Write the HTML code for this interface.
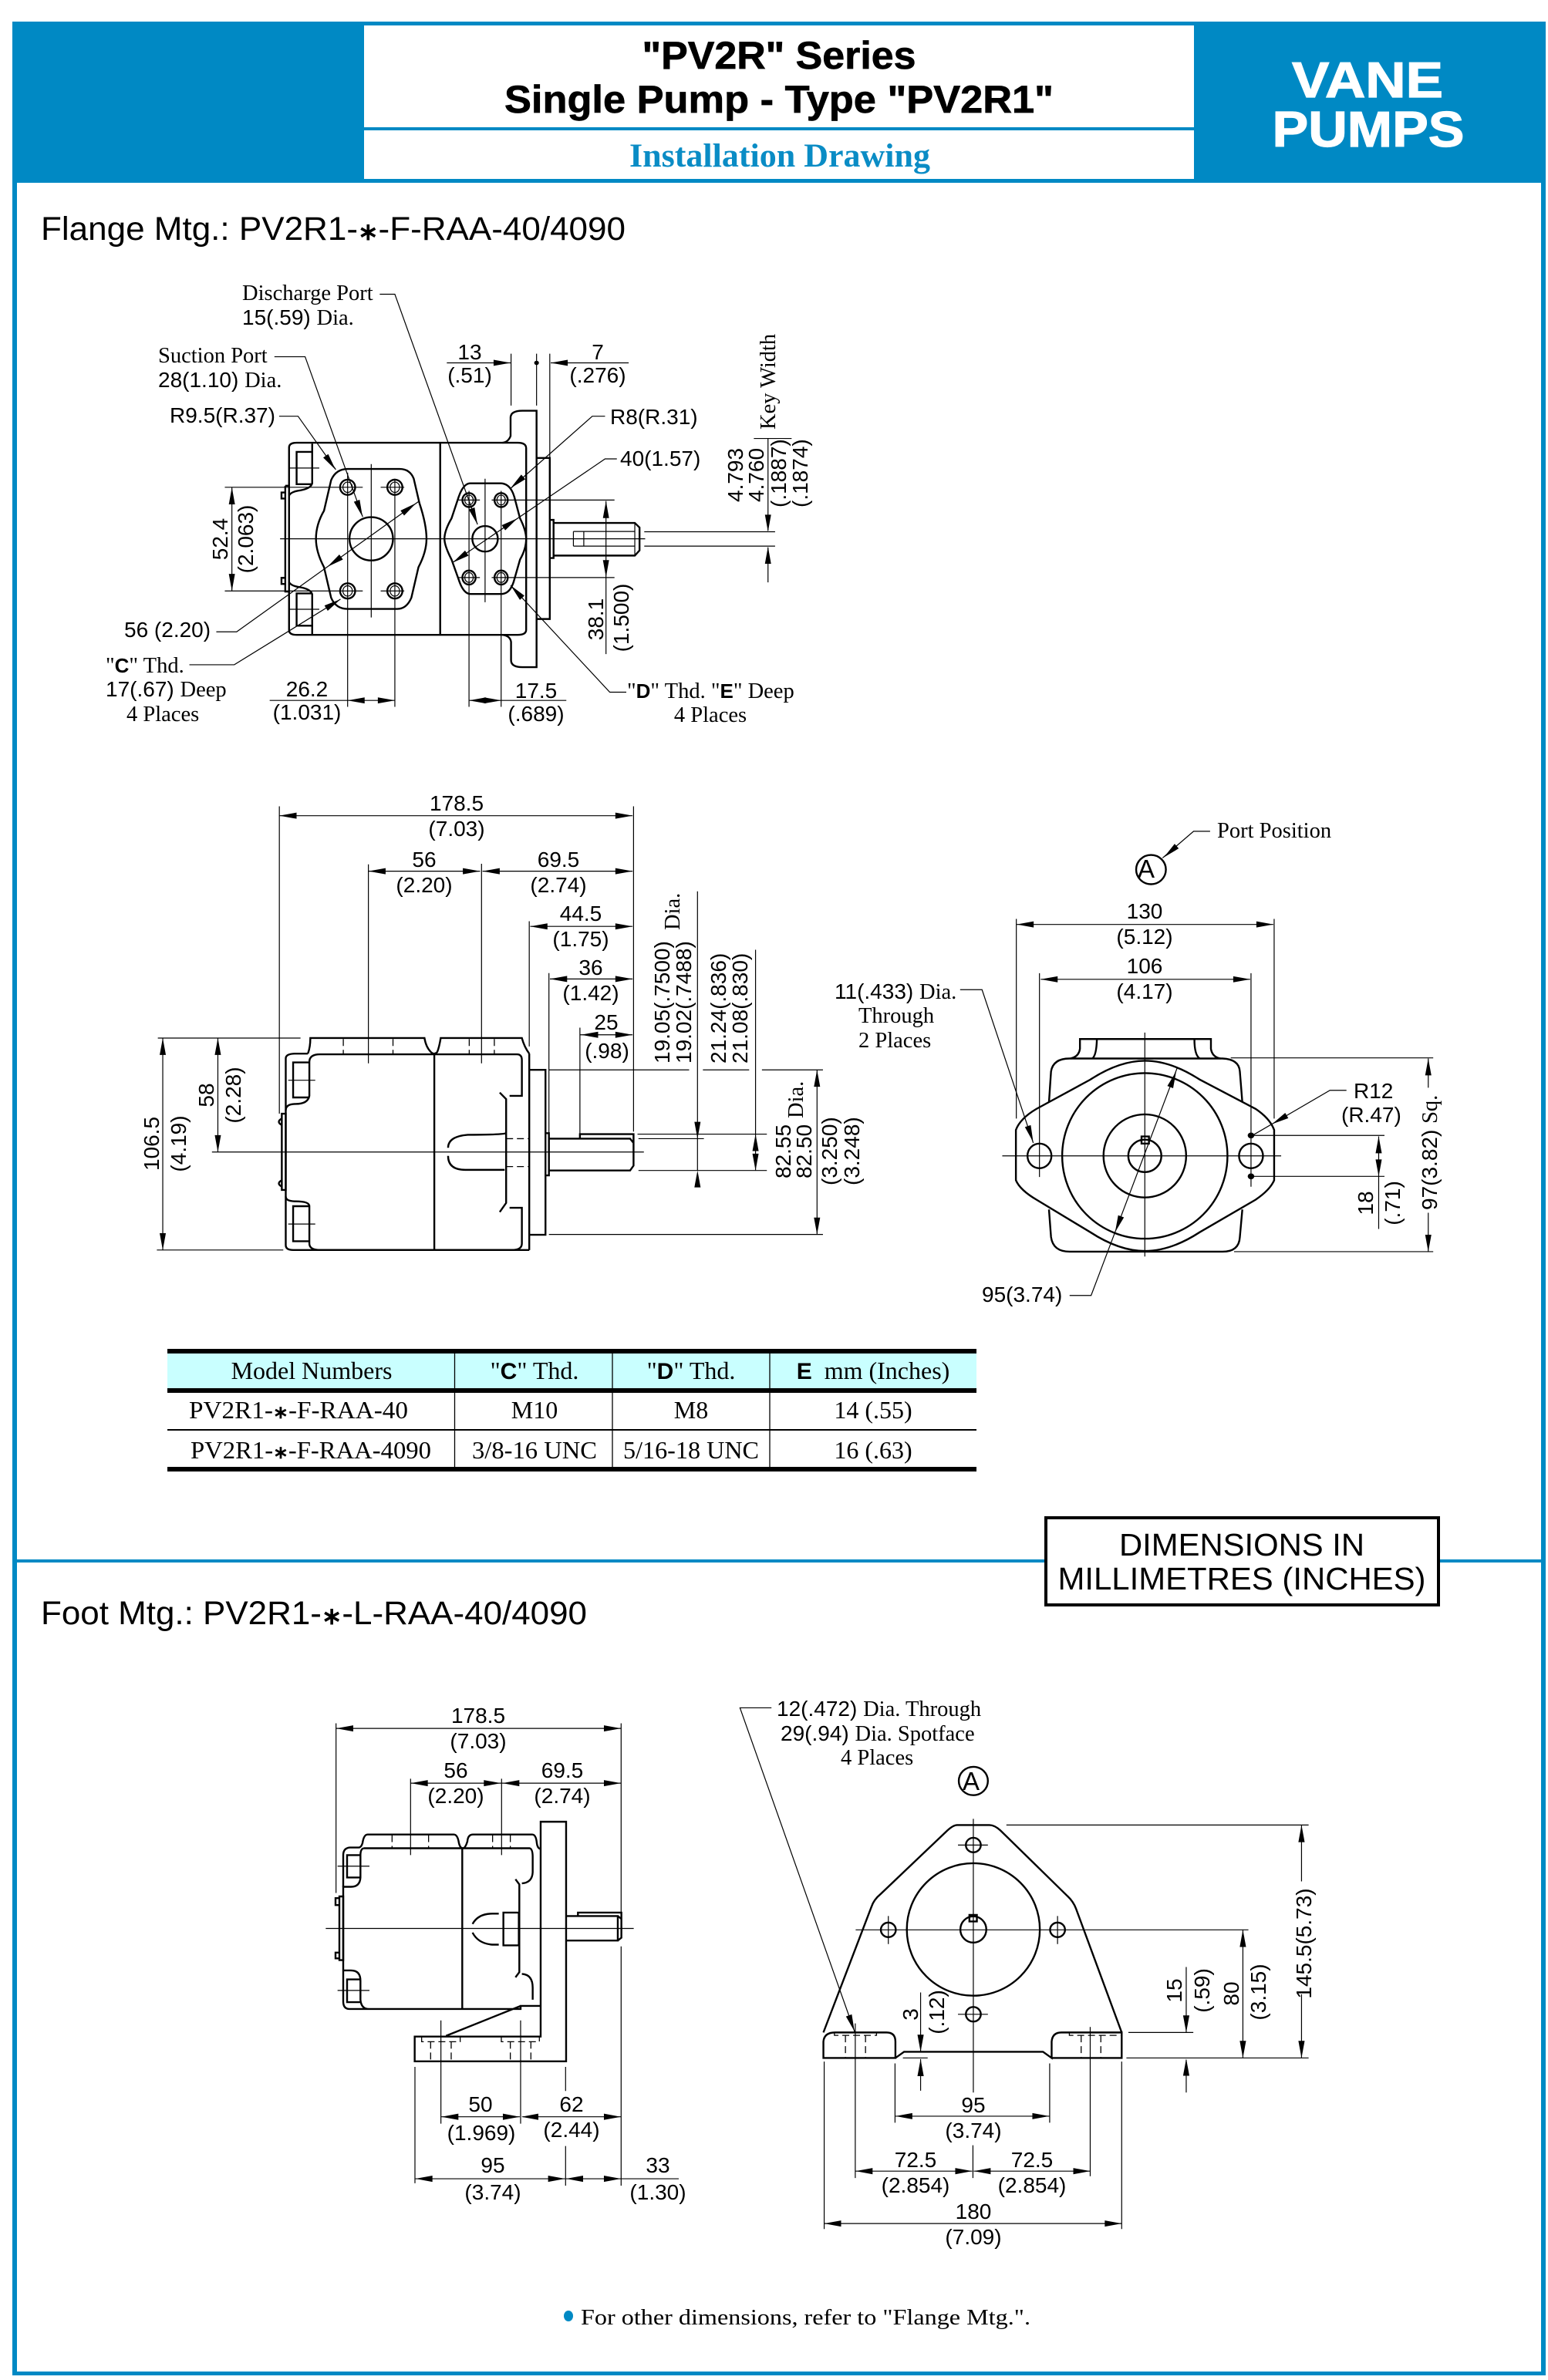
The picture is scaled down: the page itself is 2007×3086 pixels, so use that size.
<!DOCTYPE html>
<html><head><meta charset="utf-8"><title>PV2R Series Installation Drawing</title>
<style>
html,body{margin:0;padding:0;background:#fff}
svg{display:block}
.g path,.g line,.g ellipse,.g rect{vector-effect:non-scaling-stroke;fill:none;stroke:#000;stroke-width:2.4}
.g .t{stroke-width:1.2}
.g .d{stroke-width:1.3;stroke-dasharray:9 5}
.g .k{fill:#000;stroke:none}
text{fill:#000}
.n{font:28px "Liberation Sans",sans-serif}
.s{font:28.5px "Liberation Serif",serif}
.c{text-anchor:middle}
.tb{font:32px "Liberation Serif",serif}
.b{font-family:"Liberation Sans",sans-serif;font-weight:bold}
.st{font-size:.72em;font-weight:bold}
</style></head><body>
<svg xmlns="http://www.w3.org/2000/svg" width="2007" height="3086" viewBox="0 0 2007 3086">
<defs>
<path id="O" d="M0 0l-22 -4v8z"/>
<path id="Ar" d="M0 0l-36 -10v20z"/><path id="Al" d="M0 0l36 -10v20z"/><path id="Ad" d="M0 0l-6.5 -56h13z"/><path id="Au" d="M0 0l-6.5 56h13z"/>
<path id="Br" d="M0 0l-35 -9.5v19z"/><path id="Bl" d="M0 0l35 -9.5v19z"/><path id="Bd" d="M0 0l-6.3 -52h12.6z"/><path id="Bu" d="M0 0l-6.3 52h12.6z"/>
<path id="Cr" d="M0 0l-41 -9.5v19z"/><path id="Cl" d="M0 0l41 -9.5v19z"/><path id="Cd" d="M0 0l-7.5 -52h15z"/><path id="Cu" d="M0 0l-7.5 52h15z"/>
<path id="Dr" d="M0 0l-66 -9v18z"/><path id="Dl" d="M0 0l66 -9v18z"/>
<path id="Er" d="M0 0l-43 -8.5v17z"/><path id="El" d="M0 0l43 -8.5v17z"/><path id="Ed" d="M0 0l-8 -47h16z"/><path id="Eu" d="M0 0l-8 47h16z"/>
</defs>
<rect width="2007" height="3086" fill="#fff"/>
<!-- frame -->
<g fill="#0089c4">
<rect x="16" y="28" width="1988" height="209"/>
<rect x="16" y="237" width="6" height="2843"/>
<rect x="1998" y="237" width="6" height="2843"/>
<rect x="16" y="3075" width="1988" height="5"/>
<rect x="22" y="2022" width="1976" height="4"/>
</g>
<rect x="472" y="33" width="1076" height="199" fill="#fff"/>
<rect x="472" y="165" width="1076" height="4" fill="#0089c4"/>
<text class="b c" x="1010" y="89" font-size="50" stroke="#000" stroke-width=".7" textLength="355" lengthAdjust="spacingAndGlyphs">"PV2R" Series</text>
<text class="b c" x="1010" y="146" font-size="50" stroke="#000" stroke-width=".7" textLength="712" lengthAdjust="spacingAndGlyphs">Single Pump - Type "PV2R1"</text>
<text class="c" x="1011" y="216" font-family="Liberation Serif,serif" font-weight="bold" font-size="43" style="fill:#0a8cc5" textLength="390" lengthAdjust="spacingAndGlyphs">Installation Drawing</text>
<text class="b c" x="1773" y="126" font-size="65" stroke="#fff" stroke-width="1.2" style="fill:#fff" textLength="196" lengthAdjust="spacingAndGlyphs">VANE</text>
<text class="b c" x="1774" y="190" font-size="65" stroke="#fff" stroke-width="1.2" style="fill:#fff" textLength="249" lengthAdjust="spacingAndGlyphs">PUMPS</text>
<text x="53" y="311" font-family="Liberation Sans,sans-serif" font-size="43" textLength="758" lengthAdjust="spacingAndGlyphs">Flange Mtg.: PV2R1-<tspan class="st">∗</tspan>-F-RAA-40/4090</text>
<text x="53" y="2106" font-family="Liberation Sans,sans-serif" font-size="43" textLength="708" lengthAdjust="spacingAndGlyphs">Foot Mtg.: PV2R1-<tspan class="st">∗</tspan>-L-RAA-40/4090</text>

<!-- Drawing A -->
<g class="g" transform="translate(120 340) scale(.6124 .3954)">
<path d="M432 592Q416 592 416 608V1206Q416 1222 432 1222H900Q918 1222 918 1205V610Q918 592 900 592Z"/>
<path d="M736 592V1222M465 595V725Q462 742 440 748Q420 752 416 765M465 622H432V728H465M465 1219V1089Q462 1072 440 1066Q420 1062 416 1049M465 1192H432V1086H465"/>
<path d="M408 733V1080H416M408 733H416M408 755H400V775H408M408 1035H400V1055H408"/>
<path d="M868 592Q880 590 885 570V510Q885 487 910 487H940V1328H910Q886 1328 886 1305V1245Q884 1225 868 1222"/>
<path d="M940 642H968V1170H940M968 845H976V970H968M976 855H1148L1158 870V945L1148 962H976Z"/>
<path class="t" d="M1018 883H1148M1018 931H1148M1018 883V931M1040 883V931M1148 855V962"/>
<path d="M540 678H650Q672 678 680 710L692 790Q707 860 707 907Q707 950 690 1000L675 1100Q665 1137 645 1137H540Q515 1137 505 1100L490 1000Q473 950 473 907Q473 860 490 815L505 715Q515 678 540 678Z"/>
<ellipse cx="590" cy="907" rx="46" ry="71"/>
<ellipse cx="540" cy="738" rx="16" ry="25"/><ellipse class="t" cx="540" cy="738" rx="10" ry="17"/>
<ellipse cx="640" cy="738" rx="16" ry="25"/><ellipse class="t" cx="640" cy="738" rx="10" ry="17"/>
<ellipse cx="540" cy="1078" rx="16" ry="25"/><ellipse class="t" cx="540" cy="1078" rx="10" ry="17"/>
<ellipse cx="640" cy="1078" rx="16" ry="25"/><ellipse class="t" cx="640" cy="1078" rx="10" ry="17"/>
<path d="M800 725H865Q885 727 893 770L905 840Q918 880 918 907Q918 940 905 975L893 1040Q885 1088 865 1088H800Q785 1088 775 1040L760 975Q745 930 745 907Q745 880 760 840L775 770Q785 725 800 725Z"/>
<ellipse cx="831" cy="907" rx="27" ry="42"/>
<ellipse cx="797" cy="780" rx="14" ry="23"/><ellipse class="t" cx="797" cy="780" rx="9" ry="16"/>
<ellipse cx="865" cy="780" rx="14" ry="23"/><ellipse class="t" cx="865" cy="780" rx="9" ry="16"/>
<ellipse cx="797" cy="1034" rx="14" ry="23"/><ellipse class="t" cx="797" cy="1034" rx="9" ry="16"/>
<ellipse cx="865" cy="1034" rx="14" ry="23"/><ellipse class="t" cx="865" cy="1034" rx="9" ry="16"/>
<path class="t" d="M397 907H1170M416 675H480M416 1138H480M590 662V1165M280 738H572M610 738H660M280 1078H572M610 1078H660M540 690V1458M640 710V1458M831 710V1115M775 780H820M845 780H1105M775 1034H820M845 1034H1105M797 750V1458M865 750V1458"/>
<path class="t" d="M295 738V1078M1087 783V1285M750 330H885M886 300V470M940 300V470M968 300V640M970 330H1135M375 1437H640M797 1437H1003M1168 884H1445M1168 931H1445M1430 578V880M1430 935V1050M1400 578H1480"/>
<path class="t" d="M608 105H640L815 860M385 310H450L572 835M395 505H435L515 680M1085 505H1058L885 742M1110 645H1085L762 985M262 1212H305L690 785M205 1320H300L525 1105M1130 1410H1095L885 1060"/>
<g class="k">
<ellipse class="k" cx="940" cy="330" rx="5" ry="7"/>
<use href="#Ad" x="295" y="1078"/><use href="#Au" x="295" y="738"/><use href="#Au" x="1087" y="783"/><use href="#Ad" x="1087" y="1033"/>
<use href="#Ar" x="885" y="330"/><use href="#Al" x="970" y="330"/><use href="#Al" x="540" y="1437"/><use href="#Ar" x="640" y="1437"/><use href="#Al" x="797" y="1437"/><use href="#Ar" x="865" y="1437"/><use href="#Ad" x="1430" y="884"/><use href="#Au" x="1430" y="933"/>
</g>
</g>
<g>
<use href="#O" transform="translate(619 680) rotate(70.2)"/><use href="#O" transform="translate(470 670) rotate(70.2)"/><use href="#O" transform="translate(435 609) rotate(54.7)"/><use href="#O" transform="translate(662 633) rotate(138.5)"/><use href="#O" transform="translate(587 729.5) rotate(145.8)"/><use href="#O" transform="translate(671 672) rotate(-34.2)"/><use href="#O" transform="translate(539.5 652.4) rotate(-35.6)"/><use href="#O" transform="translate(424.4 735) rotate(144.4)"/><use href="#O" transform="translate(441.5 777) rotate(-31.7)"/><use href="#O" transform="translate(662 759) rotate(-132.9)"/>
</g>
<text class="s" x="314" y="389">Discharge Port</text>
<text class="n" x="314" y="421">15(.59) <tspan class="s">Dia.</tspan></text>
<text class="s" x="205" y="470">Suction Port</text>
<text class="n" x="205" y="502">28(1.10) <tspan class="s">Dia.</tspan></text>
<text class="n" x="220" y="548">R9.5(R.37)</text>
<text class="n c" x="609" y="466">13</text><text class="n c" x="609" y="496">(.51)</text>
<text class="n c" x="775" y="466">7</text><text class="n c" x="775" y="496">(.276)</text>
<text class="n" x="791" y="550">R8(R.31)</text>
<text class="n" x="804" y="604">40(1.57)</text>
<text class="s" transform="translate(1005 557) rotate(-90)">Key Width</text>
<text class="n" transform="translate(963 651) rotate(-90)">4.793</text>
<text class="n" transform="translate(990 651) rotate(-90)">4.760</text>
<text class="n" transform="translate(1019 658) rotate(-90)">(.1887)</text>
<text class="n" transform="translate(1047 658) rotate(-90)">(.1874)</text>
<text class="n c" transform="translate(295 699) rotate(-90)">52.4</text>
<text class="n c" transform="translate(328 699) rotate(-90)">(2.063)</text>
<text class="n c" transform="translate(782 803) rotate(-90)">38.1</text>
<text class="n c" transform="translate(815 801) rotate(-90)">(1.500)</text>
<text class="n" x="161" y="826">56 (2.20)</text>
<text class="s" x="137" y="872">"<tspan class="b" font-size="26">C</tspan>" Thd.</text>
<text class="n" x="137" y="903">17(.67) <tspan class="s">Deep</tspan></text>
<text class="s" x="164" y="935">4 Places</text>
<text class="n c" x="398" y="903">26.2</text><text class="n c" x="398" y="933">(1.031)</text>
<text class="n c" x="695" y="905">17.5</text><text class="n c" x="695" y="935">(.689)</text>
<text class="s" x="813" y="905">"<tspan class="b" font-size="26">D</tspan>" Thd. "<tspan class="b" font-size="26">E</tspan>" Deep</text>
<text class="s c" x="921" y="936">4 Places</text>

<!-- Drawing B -->
<g class="g" transform="translate(160 1000) scale(.6378 .4209)">
<path d="M375 870Q380 850 380 822H612Q615 850 625 865Q632 875 638 865Q642 850 645 822H810Q815 850 825 870"/>
<path d="M400 872H800Q810 872 810 890V1000H785M785 1345H810V1455Q810 1475 790 1475H400Q378 1475 378 1455V1340Q378 1325 350 1325Q330 1325 330 1310M400 872Q378 872 378 895V1000Q375 1025 350 1025Q330 1025 330 1045"/>
<path d="M330 1045V1460Q330 1475 345 1475H825M330 1045V885Q330 870 350 870H375M825 870V1475"/>
<path d="M378 897H345V1005H378M378 1340H345V1448H378M322 1055H330V1290H322ZM322 1070Q310 1080 322 1090M322 1260Q310 1270 322 1280"/>
<path d="M632 872V1475"/>
<path d="M825 920H858V1428H825M858 1115H865V1245H858M865 1132H1030L1037 1145V1215L1030 1230H865ZM928 1132V1118H1037V1205"/>
<path d="M765 990L778 1010V1330L765 1358M778 1115Q770 1120 700 1120Q660 1125 660 1160M660 1185Q660 1228 695 1228H775"/>
<path class="d" d="M778 1132H825M778 1218H825M447 825V872M548 825V872M703 825V872M754 825V872"/>
<path class="t" d="M335 952H390M335 1395H390M180 1173H1058"/>
<path class="t" d="M317 137H1035M317 108V1055M1037 108V1110M498 308H725M730 308H1035M498 287V900M728 285V900M827 478H1035M825 462V848M867 640H1035M865 622V1132M928 812H1035M928 790V1118"/>
<path class="t" d="M865 920H1150M1178 920H1272M1298 920H1422M865 1427H1422M1410 920V1427M1167 370V1230M1047 1132H1180M1047 1230H1308M1285 550V1230M1045 1118H1308M192 822V1173M70 822H360M80 822V1475M68 1475H325"/>
<g class="k">
<use href="#Bl" x="317" y="137"/><use href="#Br" x="1035" y="137"/><use href="#Bl" x="498" y="308"/><use href="#Br" x="725" y="308"/><use href="#Bl" x="730" y="308"/><use href="#Br" x="1035" y="308"/><use href="#Bl" x="827" y="478"/><use href="#Br" x="1035" y="478"/><use href="#Bl" x="867" y="640"/><use href="#Br" x="1035" y="640"/><use href="#Bl" x="930" y="812"/><use href="#Br" x="1035" y="812"/>
<use href="#Bu" x="1410" y="920"/><use href="#Bd" x="1410" y="1427"/><use href="#Bd" x="1167" y="1132"/><use href="#Bu" x="1167" y="1230"/><use href="#Bu" x="1285" y="1118"/><use href="#Bd" x="1285" y="1230"/><use href="#Bu" x="192" y="822"/><use href="#Bd" x="192" y="1173"/><use href="#Bu" x="80" y="822"/><use href="#Bd" x="80" y="1475"/>
</g>
</g>
<text class="n c" x="592" y="1051">178.5</text><text class="n c" x="592" y="1084">(7.03)</text>
<text class="n c" x="550" y="1124">56</text><text class="n c" x="550" y="1157">(2.20)</text>
<text class="n c" x="724" y="1124">69.5</text><text class="n c" x="724" y="1157">(2.74)</text>
<text class="n c" x="753" y="1194">44.5</text><text class="n c" x="753" y="1227">(1.75)</text>
<text class="n c" x="766" y="1264">36</text><text class="n c" x="766" y="1297">(1.42)</text>
<text class="n c" x="786" y="1335">25</text><text class="n c" x="787" y="1372">(.98)</text>
<text class="n" transform="translate(868 1379) rotate(-90)">19.05(.7500)</text>
<text class="n" transform="translate(896 1379) rotate(-90)">19.02(.7488)</text>
<text class="s" transform="translate(881 1206) rotate(-90)">Dia.</text>
<text class="n" transform="translate(941 1379) rotate(-90)">21.24(.836)</text>
<text class="n" transform="translate(969 1379) rotate(-90)">21.08(.830)</text>
<text class="n" transform="translate(1025 1528) rotate(-90)">82.55</text>
<text class="n" transform="translate(1052 1528) rotate(-90)">82.50</text>
<text class="s" transform="translate(1041 1450) rotate(-90)">Dia.</text>
<text class="n" transform="translate(1085 1537) rotate(-90)">(3.250)</text>
<text class="n" transform="translate(1114 1537) rotate(-90)">(3.248)</text>
<text class="n c" transform="translate(206 1483) rotate(-90)">106.5</text>
<text class="n c" transform="translate(241 1483) rotate(-90)">(4.19)</text>
<text class="n c" transform="translate(277 1420) rotate(-90)">58</text>
<text class="n c" transform="translate(312 1420) rotate(-90)">(2.28)</text>

<!-- Drawing C -->
<g class="g" transform="translate(1060 1040) scale(.5357 .4209)">
<path d="M610 790Q570 790 565 830L560 925M610 790H980Q1020 792 1022 830L1028 925M560 1255L565 1340Q570 1385 610 1385H980Q1020 1385 1022 1340L1028 1255"/>
<path d="M612 790Q632 785 635 760V730H952V760Q955 785 975 790M665 790Q675 780 676 730M925 790Q912 780 912 730"/>
<path d="M480 1010Q490 975 530 945L660 855Q730 797 792 797Q855 797 925 855L1060 945Q1095 975 1105 1010V1165Q1095 1195 1060 1225L925 1325Q855 1383 792 1383Q730 1383 660 1325L530 1225Q490 1195 480 1165Z"/>
<ellipse cx="792" cy="1090" rx="200" ry="255"/><ellipse cx="792" cy="1090" rx="100" ry="128"/><ellipse cx="792" cy="1090" rx="40" ry="50"/>
<rect x="784" y="1030" width="18" height="22"/>
<ellipse cx="537" cy="1090" rx="29" ry="38"/><ellipse cx="1049" cy="1090" rx="29" ry="38"/>
<ellipse cx="807" cy="208" rx="36" ry="45"/>
<path class="t" d="M447 1090H1122M792 710V1400M537 527V1155M1049 527V1185M481 360V975M1105 360V975M482 377H1103M540 546H1047"/>
<path class="t" d="M345 578H398L522 1050M950 90H910L835 172M1280 888H1240L1055 1025M1049 1027H1372M1049 1153H1372M1358 1030V1315M1000 788H1490M1008 1385H1490M1478 790V880M1478 1265V1385M610 1520H662L870 820"/>
<g class="k">
<ellipse class="k" cx="1049" cy="1027" rx="8" ry="9"/><ellipse class="k" cx="1049" cy="1153" rx="8" ry="9"/>
<use href="#Cl" x="482" y="377"/><use href="#Cr" x="1103" y="377"/><use href="#Cl" x="540" y="546"/><use href="#Cr" x="1047" y="546"/>
<use href="#Cu" x="1358" y="1030"/><use href="#Cd" x="1358" y="1153"/><use href="#Cu" x="1478" y="790"/><use href="#Cd" x="1478" y="1385"/>
</g>
</g>
<g>
<use href="#O" transform="translate(1339.6 1481) rotate(71.4)"/><use href="#O" transform="translate(1509 1111.6) rotate(138.9)"/><use href="#O" transform="translate(1649.3 1457.5) rotate(149.7)"/><use href="#O" transform="translate(1525 1389) rotate(-69.3)"/><use href="#O" transform="translate(1445.7 1597.7) rotate(110.7)"/>
</g>
<text class="s" x="1578" y="1086">Port Position</text>
<text class="n c" x="1486" y="1138" style="font-size:33px">A</text>
<text class="n c" x="1484" y="1191">130</text><text class="n c" x="1484" y="1224">(5.12)</text>
<text class="n c" x="1484" y="1262">106</text><text class="n c" x="1484" y="1295">(4.17)</text>
<text class="n" x="1082" y="1295">11(.433) <tspan class="s">Dia.</tspan></text>
<text class="s" x="1113" y="1326">Through</text>
<text class="s" x="1113" y="1358">2 Places</text>
<text class="n" x="1755" y="1424">R12</text><text class="n" x="1739" y="1455">(R.47)</text>
<text class="n" transform="translate(1863 1569) rotate(-90)">97(3.82) <tspan class="s">Sq.</tspan></text>
<text class="n c" transform="translate(1780 1560) rotate(-90)">18</text>
<text class="n c" transform="translate(1815 1560) rotate(-90)">(.71)</text>
<text class="n" x="1273" y="1688">95(3.74)</text>

<!-- Table -->
<rect x="217" y="1749" width="1049" height="57" fill="#c9ffff"/>
<rect x="217" y="1749" width="1049" height="6" fill="#000"/>
<rect x="217" y="1800" width="1049" height="6" fill="#000"/>
<rect x="217" y="1853" width="1049" height="2" fill="#000"/>
<rect x="217" y="1902" width="1049" height="6" fill="#000"/>
<path d="M589.5 1755V1902M794 1755V1902M998 1755V1902" stroke="#000" stroke-width="1.3" fill="none"/>
<text class="tb c" x="404" y="1788">Model Numbers</text>
<text class="tb c" x="693" y="1788">"<tspan class="b" font-size="30">C</tspan>" Thd.</text>
<text class="tb c" x="896" y="1788">"<tspan class="b" font-size="30">D</tspan>" Thd.</text>
<text class="tb c" x="1132" y="1788"><tspan class="b" font-size="30">E</tspan>&#160;&#160;mm (Inches)</text>
<text class="tb c" x="387" y="1839" textLength="284" lengthAdjust="spacingAndGlyphs">PV2R1-<tspan class="st">∗</tspan>-F-RAA-40</text>
<text class="tb c" x="693" y="1839">M10</text><text class="tb c" x="896" y="1839">M8</text><text class="tb c" x="1132" y="1839">14 (.55)</text>
<text class="tb c" x="403" y="1891" textLength="312" lengthAdjust="spacingAndGlyphs">PV2R1-<tspan class="st">∗</tspan>-F-RAA-4090</text>
<text class="tb c" x="693" y="1891" textLength="162" lengthAdjust="spacingAndGlyphs">3/8-16 UNC</text>
<text class="tb c" x="896" y="1891" textLength="176" lengthAdjust="spacingAndGlyphs">5/16-18 UNC</text>
<text class="tb c" x="1132" y="1891">16 (.63)</text>

<!-- Dim box -->
<rect x="1356" y="1968" width="509" height="113" fill="#fff" stroke="#000" stroke-width="4"/>
<text class="c" x="1610" y="2017" font-family="Liberation Sans,sans-serif" font-size="41" textLength="318" lengthAdjust="spacingAndGlyphs">DIMENSIONS IN</text>
<text class="c" x="1610" y="2061" font-family="Liberation Sans,sans-serif" font-size="41" textLength="477" lengthAdjust="spacingAndGlyphs">MILLIMETRES (INCHES)</text>

<!-- Drawing D -->
<g class="g" transform="translate(400 2180) scale(.3333 .4464)">
<path d="M135 597V505Q135 485 160 483H195Q205 483 210 470Q215 445 230 445H565Q580 445 585 470Q590 485 600 485Q610 485 618 465Q620 445 640 445H870Q885 445 888 470Q890 483 900 487"/>
<path d="M215 485H860Q872 487 872 510V555Q870 585 830 587M215 485Q202 487 202 505V570Q200 597 165 597H135V840H165Q202 840 202 870V925Q205 952 235 952M135 840V930Q135 952 160 952H825L825 943H903M825 943L535 1030"/>
<path d="M202 505H150V570H202M202 866H150V932H202M120 625H135V810H120ZM120 630H105V650H120M120 788H105V805H120M598 485V952"/>
<path d="M903 408H1002V1104H413V1032H903Z"/>
<path d="M1002 682H1203V753H1002M1048 682V672H1217V745L1203 753M1203 682L1217 690M1203 682V753"/>
<path d="M805 575L820 590V845L805 860M830 850Q872 852 872 890V925M758 672H818V767H758Z"/>
<path d="M740 675H715Q660 675 638 705M638 730Q660 762 715 765H740"/>
<path class="d" d="M440 1033V1047H590V1033M475 1047V1104M555 1047V1104M750 1033V1047H898V1033M785 1047V1104M865 1047V1104M325 447V485M467 447V485M716 447V485M785 447V485"/>
<path class="t" d="M113 537H237M113 898H237M67 718H1265M397 283V505M751 283V505"/>
<path class="t" d="M108 137H1215M107 122V615M1216 122V670M1216 770V1465M397 296H750M752 296H1215M515 985V1285M825 985V1285M517 1265H822M832 1265H1215M1000 1120V1190M1000 1350V1465M414 1120V1458M416 1445H998M1002 1445H1440"/>
<g class="k">
<use href="#Dl" x="108" y="137"/><use href="#Dr" x="1215" y="137"/><use href="#Dl" x="398" y="296"/><use href="#Dr" x="748" y="296"/><use href="#Dl" x="754" y="296"/><use href="#Dr" x="1215" y="296"/><use href="#Dl" x="517" y="1265"/><use href="#Dr" x="822" y="1265"/><use href="#Dl" x="828" y="1265"/><use href="#Dr" x="1215" y="1265"/><use href="#Dl" x="416" y="1445"/><use href="#Dr" x="998" y="1445"/><use href="#Dl" x="1002" y="1445"/><use href="#Dr" x="1215" y="1445"/>
</g>
</g>
<text class="n c" x="620" y="2234">178.5</text><text class="n c" x="620" y="2267">(7.03)</text>
<text class="n c" x="591" y="2305">56</text><text class="n c" x="591" y="2338">(2.20)</text>
<text class="n c" x="729" y="2305">69.5</text><text class="n c" x="729" y="2338">(2.74)</text>
<text class="n c" x="623" y="2738">50</text><text class="n c" x="624" y="2775">(1.969)</text>
<text class="n c" x="741" y="2738">62</text><text class="n c" x="741" y="2771">(2.44)</text>
<text class="n c" x="639" y="2817">95</text><text class="n c" x="639" y="2852">(3.74)</text>
<text class="n c" x="853" y="2817">33</text><text class="n c" x="853" y="2852">(1.30)</text>

<!-- Drawing E -->
<g class="g" transform="translate(940 2180) scale(.5102 .4719)">
<path d="M250 965L372 620Q378 600 395 585L565 410Q580 395 590 395H672Q685 395 700 410L870 590Q885 605 892 625L1008 965"/>
<path d="M250 1035V990Q252 965 280 965H410Q433 965 433 990V1035ZM433 1035L455 1018H808L830 1035V990Q832 965 855 965H1008V1035H830"/>
<ellipse cx="631" cy="450" rx="19" ry="20"/><ellipse cx="415" cy="683" rx="19" ry="20"/><ellipse cx="845" cy="683" rx="19" ry="20"/><ellipse cx="631" cy="915" rx="19" ry="20"/>
<ellipse cx="631" cy="682" rx="169" ry="182"/><ellipse cx="631" cy="682" rx="33" ry="36"/>
<rect x="621" y="642" width="19" height="18"/>
<ellipse cx="631" cy="274" rx="37" ry="39"/>
<path class="d" d="M278 965V973H385V965M306 973V1035M357 973V1035M875 965V973H1005M905 973V1035M955 973V1035"/>
<path class="t" d="M631 378V1130M332 683H1330M592 450H668M592 915H668M415 645V722M845 645V722"/>
<path class="t" d="M118 73H38L330 965M331 940V1365M928 950V1360M252 1045V1505M1008 1045V1505M432 1050V1213M825 1050V1213M433 1195H824M332 1346H628M632 1346H928M630 1275V1365M252 1490H1008"/>
<path class="t" d="M497 855V1018M497 1038V1125M452 1035H515M1172 785V965M1172 1040V1130M1025 965H1190M1020 1035H1483M1316 683V1035M1465 395V550M1465 860V1035M715 395H1483"/>
<g class="k">
<use href="#El" x="433" y="1195"/><use href="#Er" x="824" y="1195"/><use href="#El" x="332" y="1346"/><use href="#Er" x="628" y="1346"/><use href="#El" x="632" y="1346"/><use href="#Er" x="928" y="1346"/><use href="#El" x="252" y="1490"/><use href="#Er" x="1008" y="1490"/>
<use href="#Ed" x="497" y="1018"/><use href="#Eu" x="497" y="1038"/><use href="#Ed" x="1172" y="965"/><use href="#Eu" x="1172" y="1037"/><use href="#Eu" x="1316" y="683"/><use href="#Ed" x="1316" y="1035"/><use href="#Eu" x="1465" y="395"/><use href="#Ed" x="1465" y="1035"/>
</g>
</g>
<use href="#O" transform="translate(1107.9 2634) rotate(70.5)"/>
<text class="n" x="1007" y="2225">12(.472) <tspan class="s">Dia. Through</tspan></text>
<text class="n" x="1012" y="2257">29(.94) <tspan class="s">Dia. Spotface</tspan></text>
<text class="s" x="1090" y="2288">4 Places</text>
<text class="n c" x="1259" y="2321" style="font-size:33px">A</text>
<text class="n c" x="1262" y="2739">95</text><text class="n c" x="1262" y="2772">(3.74)</text>
<text class="n c" x="1187" y="2810">72.5</text><text class="n c" x="1187" y="2843">(2.854)</text>
<text class="n c" x="1338" y="2810">72.5</text><text class="n c" x="1338" y="2843">(2.854)</text>
<text class="n c" x="1262" y="2877">180</text><text class="n c" x="1262" y="2910">(7.09)</text>
<text class="n c" transform="translate(1190 2612) rotate(-90)">3</text>
<text class="n c" transform="translate(1224 2609) rotate(-90)">(.12)</text>
<text class="n c" transform="translate(1532 2581) rotate(-90)">15</text>
<text class="n c" transform="translate(1568 2581) rotate(-90)">(.59)</text>
<text class="n c" transform="translate(1606 2585) rotate(-90)">80</text>
<text class="n c" transform="translate(1641 2583) rotate(-90)">(3.15)</text>
<text class="n c" transform="translate(1700 2520) rotate(-90)">145.5(5.73)</text>

<!-- Note -->
<ellipse cx="737" cy="3003" rx="6" ry="7" fill="#0089c4"/>
<text x="753" y="3014" font-family="Liberation Serif,serif" font-size="29" textLength="583" lengthAdjust="spacingAndGlyphs">For other dimensions, refer to "Flange Mtg.".</text>
</svg>
</body></html>
